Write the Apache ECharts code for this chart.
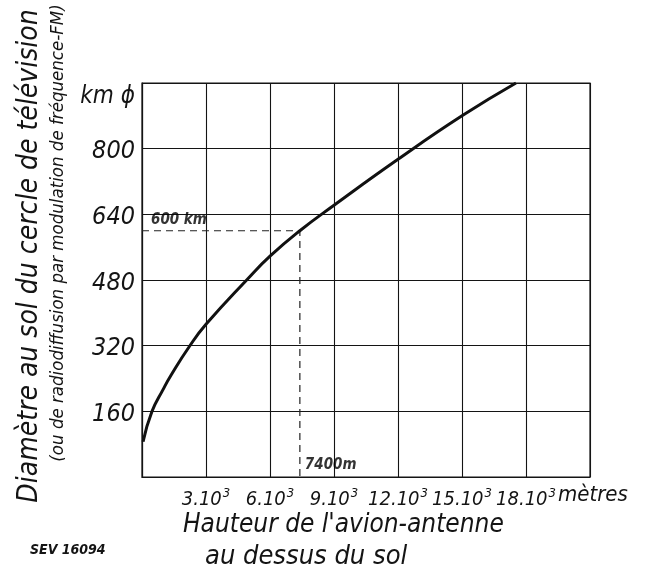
<!DOCTYPE html>
<html>
<head>
<meta charset="utf-8">
<script src="https://cdn.jsdelivr.net/npm/echarts@6/dist/echarts.min.js"></script>
<style>
html,body{margin:0;padding:0;background:#fff;}
#c{width:650px;height:569px;}
</style>
</head>
<body>
<div id="c"></div>
<script>
// Data
var heights = [50, 470, 985, 1360, 2220, 3000, 4940, 6000, 7400, 9000, 12000, 15000, 17530];
var diameters = [86, 160, 213, 248, 318, 372, 482, 538, 600, 662, 774, 880, 960];
var xTicks = [3000, 6000, 9000, 12000, 15000, 18000];
var xTickLabels = ['3.10', '6.10', '9.10', '12.10', '15.10', '18.10'];
var yTicks = [160, 320, 480, 640, 800, 960];
var yTickLabels = ['160', '320', '480', '640', '800', 'km ϕ'];
var markH = 7400;
var markD = 600;
var markHLabel = '7400m';
var markDLabel = '600 km';

var FONT = "'DejaVu Sans Condensed','Liberation Sans Narrow','DejaVu Sans',sans-serif";
var INK = '#141414';

var curve = heights.map(function (h, i) { return [h, diameters[i]]; });

var chart = echarts.init(document.getElementById('c'), null, {renderer: 'canvas'});
chart.setOption({
  backgroundColor: '#ffffff',
  animation: false,
  grid: {left: 142, right: 60, top: 83, bottom: 92, show: true, borderColor: INK, borderWidth: 1.2},
  xAxis: {
    type: 'value', min: 0, max: 21000, interval: 3000,
    axisLine: {show: true, lineStyle: {color: INK, width: 1.2}},
    axisTick: {show: false},
    splitLine: {show: true, lineStyle: {color: INK, width: 1.1}},
    axisLabel: {
      margin: 10,
      formatter: function (v) {
        var i = xTicks.indexOf(v);
        if (i < 0) return '';
        return '{a|' + xTickLabels[i] + '}{s|3}';
      },
      rich: {
        a: {fontFamily: FONT, fontStyle: 'italic', fontSize: 20, color: INK, lineHeight: 26},
        s: {fontFamily: FONT, fontStyle: 'italic', fontSize: 13, color: INK, verticalAlign: 'top', lineHeight: 26, padding: [0, 0, 12, 1]}
      }
    }
  },
  yAxis: {
    type: 'value', min: 0, max: 960, interval: 160,
    axisLine: {show: true, lineStyle: {color: INK, width: 1.2}},
    axisTick: {show: false},
    splitLine: {show: true, lineStyle: {color: INK, width: 1.1}},
    axisLabel: {
      margin: 7,
      formatter: function (v) {
        var i = yTicks.indexOf(v);
        if (i < 0) return '';
        return (v === 960 ? '{k|' : '{n|') + yTickLabels[i] + '}';
      },
      rich: {
        n: {fontFamily: FONT, fontStyle: 'italic', fontSize: 25, color: INK, padding: [6, 0, 0, 0]},
        k: {fontFamily: FONT, fontStyle: 'italic', fontSize: 24, color: INK, padding: [28, 0, 0, 0]}
      }
    }
  },
  series: [
    {
      type: 'line', data: curve, smooth: 0.5, showSymbol: false,
      lineStyle: {color: '#111', width: 3}, z: 5
    },
    {
      type: 'line', data: [[0, markD], [markH, markD], [markH, 0]], showSymbol: false,
      lineStyle: {color: '#222', width: 1.2, type: [7, 5]}, z: 4
    },
    {
      type: 'scatter', symbolSize: 0, z: 6,
      data: [
        {value: [0, markD], label: {show: true, formatter: markDLabel, position: 'right', offset: [4, -11]}},
        {value: [markH, 0], label: {show: true, formatter: markHLabel, position: 'right', offset: [0, -12]}}
      ],
      label: {fontFamily: FONT, fontStyle: 'italic', fontWeight: 'bold', fontSize: 15, color: '#000'}
    }
  ],
  graphic: [
    {type: 'text', left: 558, top: 484, style: {text: 'mètres', font: 'italic 22px ' + FONT, fill: INK}},
    {type: 'text', left: 183, top: 512, style: {text: "Hauteur de l'avion-antenne", font: 'italic 26px ' + FONT, fill: INK}},
    {type: 'text', left: 205, top: 543, style: {text: 'au dessus du sol', font: 'italic 27px ' + FONT, fill: INK}},
    {type: 'text', left: 30, top: 543, style: {text: 'SEV 16094', font: 'italic bold 14px ' + FONT, fill: INK}},
    {type: 'text', x: 30, y: 256, rotation: Math.PI / 2,
      style: {text: 'Diamètre au sol du cercle de télévision', font: 'italic 28px ' + FONT, fill: INK, align: 'center', verticalAlign: 'middle'}},
    {type: 'text', x: 58, y: 233, rotation: Math.PI / 2,
      style: {text: '(ou de radiodiffusion par modulation de fréquence-FM)', font: 'italic 18.5px ' + FONT, fill: INK, align: 'center', verticalAlign: 'middle'}}
  ]
});
</script>
</body>
</html>
